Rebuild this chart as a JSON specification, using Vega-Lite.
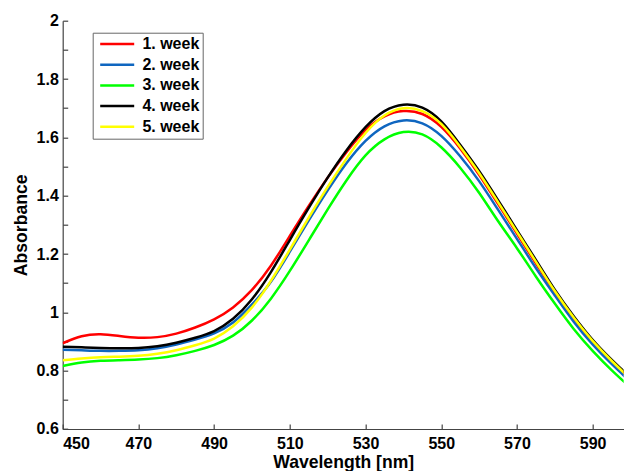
{
  "$schema": "https://vega.github.io/schema/vega-lite/v6.json",
  "autosize": {"type": "none"},
  "padding": {"left": 62.7, "top": 20.7, "right": 0, "bottom": 42},
  "width": 561,
  "height": 408.3,
  "background": "white",
  "config": {"view": {"stroke": null}, "font": "Liberation Sans"},
  "data": {"values": [
    {"x":450,"w1":0.894,"w2":0.872,"w3":0.816,"w4":0.882,"w5":0.836},
    {"x":455,"w1":0.918,"w2":0.870,"w3":0.828,"w4":0.880,"w5":0.842},
    {"x":460,"w1":0.925,"w2":0.868,"w3":0.834,"w4":0.878,"w5":0.846},
    {"x":465,"w1":0.919,"w2":0.868,"w3":0.836,"w4":0.877,"w5":0.848},
    {"x":470,"w1":0.913,"w2":0.870,"w3":0.838,"w4":0.878,"w5":0.851},
    {"x":475,"w1":0.915,"w2":0.877,"w3":0.843,"w4":0.884,"w5":0.858},
    {"x":480,"w1":0.927,"w2":0.890,"w3":0.853,"w4":0.896,"w5":0.870},
    {"x":485,"w1":0.948,"w2":0.907,"w3":0.868,"w4":0.913,"w5":0.887},
    {"x":490,"w1":0.976,"w2":0.928,"w3":0.888,"w4":0.936,"w5":0.910},
    {"x":495,"w1":1.017,"w2":0.965,"w3":0.920,"w4":0.978,"w5":0.952},
    {"x":500,"w1":1.077,"w2":1.027,"w3":0.972,"w4":1.045,"w5":1.017},
    {"x":505,"w1":1.160,"w2":1.105,"w3":1.047,"w4":1.138,"w5":1.108},
    {"x":510,"w1":1.262,"w2":1.208,"w3":1.142,"w4":1.248,"w5":1.215},
    {"x":515,"w1":1.365,"w2":1.315,"w3":1.247,"w4":1.358,"w5":1.325},
    {"x":520,"w1":1.462,"w2":1.418,"w3":1.353,"w4":1.462,"w5":1.430},
    {"x":525,"w1":1.550,"w2":1.512,"w3":1.453,"w4":1.556,"w5":1.528},
    {"x":530,"w1":1.625,"w2":1.588,"w3":1.538,"w4":1.635,"w5":1.615},
    {"x":535,"w1":1.672,"w2":1.638,"w3":1.593,"w4":1.690,"w5":1.675},
    {"x":540,"w1":1.690,"w2":1.658,"w3":1.618,"w4":1.712,"w5":1.700},
    {"x":545,"w1":1.680,"w2":1.648,"w3":1.610,"w4":1.702,"w5":1.690},
    {"x":550,"w1":1.636,"w2":1.605,"w3":1.566,"w4":1.655,"w5":1.646},
    {"x":555,"w1":1.562,"w2":1.535,"w3":1.496,"w4":1.575,"w5":1.568},
    {"x":560,"w1":1.472,"w2":1.450,"w3":1.410,"w4":1.485,"w5":1.478},
    {"x":565,"w1":1.372,"w2":1.352,"w3":1.313,"w4":1.385,"w5":1.378},
    {"x":570,"w1":1.270,"w2":1.252,"w3":1.220,"w4":1.282,"w5":1.276},
    {"x":575,"w1":1.168,"w2":1.152,"w3":1.123,"w4":1.180,"w5":1.174},
    {"x":580,"w1":1.070,"w2":1.058,"w3":1.030,"w4":1.078,"w5":1.073},
    {"x":585,"w1":0.980,"w2":0.968,"w3":0.943,"w4":0.987,"w5":0.982},
    {"x":590,"w1":0.900,"w2":0.890,"w3":0.868,"w4":0.906,"w5":0.902},
    {"x":595,"w1":0.832,"w2":0.823,"w3":0.802,"w4":0.838,"w5":0.834},
    {"x":600,"w1":0.770,"w2":0.762,"w3":0.742,"w4":0.776,"w5":0.772}
  ]},
  "transform": [
    {"fold": ["w1","w2","w3","w4","w5"], "as": ["series","y"]},
    {"lookup": "series", "from": {"data": {"values": [
      {"series":"w1","week":"1. week"},
      {"series":"w2","week":"2. week"},
      {"series":"w3","week":"3. week"},
      {"series":"w4","week":"4. week"},
      {"series":"w5","week":"5. week"}
    ]}, "key": "series", "fields": ["week"]}}
  ],
  "mark": {"type": "line", "interpolate": "natural", "strokeWidth": 2.5, "clip": true},
  "encoding": {
    "x": {
      "field": "x", "type": "quantitative",
      "scale": {"domain": [450, 598.2], "nice": false, "zero": false},
      "axis": {
        "title": "Wavelength [nm]",
        "values": [450,470,490,510,530,550,570,590],
        "grid": false,
        "tickSize": -5,
        "tickColor": "#444444",
        "domainColor": "#444444",
        "domainWidth": 1.2,
        "tickWidth": 1.2,
        "labelFont": "Liberation Sans",
        "labelFontWeight": "bold",
        "labelFontSize": 16,
        "labelColor": "black",
        "labelPadding": 11.5,
        "titleFont": "Liberation Sans",
        "titleFontWeight": "bold",
        "titleFontSize": 17.6,
        "titleColor": "black",
        "titlePadding": 2
      }
    },
    "y": {
      "field": "y", "type": "quantitative",
      "scale": {"domain": [0.6, 2], "nice": false, "zero": false},
      "axis": {
        "title": "Absorbance",
        "values": [0.6,0.7,0.8,0.9,1,1.1,1.2,1.3,1.4,1.5,1.6,1.7,1.8,1.9,2],
        "labelExpr": "(round(datum.value*10) % 2 == 0) ? format(datum.value, '~g') : ''",
        "grid": false,
        "tickSize": -5,
        "tickColor": "#444444",
        "domainColor": "#444444",
        "domainWidth": 1.2,
        "tickWidth": 1.2,
        "labelFont": "Liberation Sans",
        "labelFontWeight": "bold",
        "labelFontSize": 16,
        "labelColor": "black",
        "labelPadding": 9.4,
        "titleFont": "Liberation Sans",
        "titleFontWeight": "bold",
        "titleFontSize": 17.6,
        "titleColor": "black",
        "titlePadding": 5.5
      }
    },
    "color": {
      "field": "week", "type": "nominal",
      "scale": {"domain": ["1. week","2. week","3. week","4. week","5. week"],
                "range": ["#ff0000","#0f66c0","#00ff00","#000000","#ffff00"]},
      "legend": {
        "title": null,
        "orient": "none",
        "legendX": 30,
        "legendY": 12,
        "symbolType": "stroke",
        "symbolSize": 1156,
        "symbolStrokeWidth": 2.5,
        "symbolOffset": 2.7,
        "clipHeight": 16,
        "labelFont": "Liberation Sans",
        "labelFontWeight": "bold",
        "labelFontSize": 16,
        "labelColor": "black",
        "labelOffset": 6.7,
        "rowPadding": 4.7,
        "padding": 3.3,
        "strokeColor": "#666666",
        "fillColor": "white"
      }
    }
  }
}
